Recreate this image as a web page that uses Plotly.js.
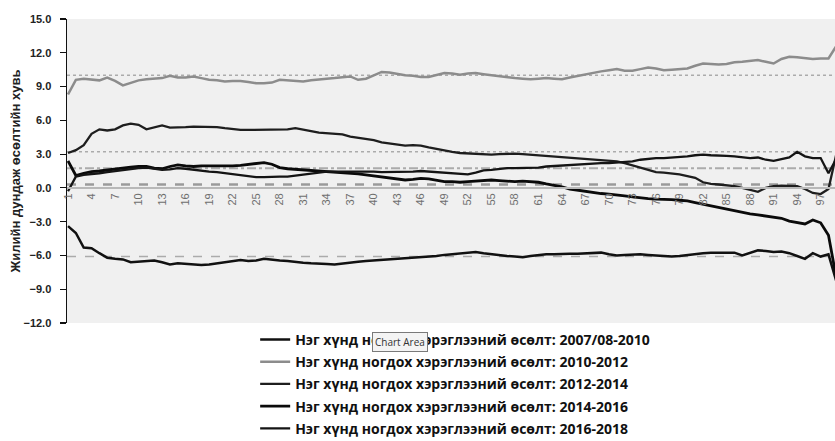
<!DOCTYPE html>
<html>
<head>
<meta charset="utf-8">
<script src="https://cdn.plot.ly/plotly-3.0.1.min.js"></script>
<style>html,body{margin:0;padding:0;background:#fff;overflow:hidden}#chart{width:835px;height:441px}</style>
</head>
<body>
<div id="chart"></div>
<script>
// Categories 1..99
var categories = [];
for (var i = 1; i <= 99; i++) categories.push(i);

var tickValues = [1,4,7,10,13,16,19,22,25,28,31,34,37,40,43,46,49,52,55,58,61,64,67,70,73,76,79,82,85,88,91,94,97];
var tickLabels = tickValues.map(String);

var seriesNames = [
  "Нэг хүнд ногдох хэрэглээний өсөлт: 2007/08-2010",
  "Нэг хүнд ногдох хэрэглээний өсөлт: 2010-2012",
  "Нэг хүнд ногдох хэрэглээний өсөлт: 2012-2014",
  "Нэг хүнд ногдох хэрэглээний өсөлт: 2014-2016",
  "Нэг хүнд ногдох хэрэглээний өсөлт: 2016-2018"
];

var growth2007_2010 = [
-3.4,-4.0,-5.3,-5.35,-5.8,-6.2,-6.3,-6.35,-6.6,-6.55,
-6.5,-6.45,-6.6,-6.8,-6.7,-6.75,-6.8,-6.85,-6.8,-6.7,
-6.55,-6.45,-6.4,-6.5,-6.45,-6.3,-6.4,-6.45,-6.5,-6.6,
-6.65,-6.7,-6.7,-6.75,-6.8,-6.7,-6.6,-6.55,-6.5,-6.45,
-6.4,-6.4,-6.35,-6.3,-6.25,-6.2,-6.15,-6.05,-5.95,-5.9,
-5.85,-5.75,-5.7,-5.8,-5.9,-5.95,-6.05,-6.1,-6.15,-6.05,
-5.95,-5.9,-5.9,-5.85,-5.85,-5.85,-5.8,-5.8,-5.75,-5.9,
-6.0,-5.95,-5.9,-5.9,-5.95,-6.0,-6.05,-6.1,-6.05,-5.95,
-5.85,-5.8,-5.75,-5.75,-5.7,-5.75,-6.0,-5.8,-5.55,-5.6,
-5.7,-5.65,-5.8,-6.05,-6.3,-5.8,-6.1,-5.9,-8.3
];

var growth2010_2012 = [
8.3,9.6,9.7,9.6,9.55,9.8,9.5,9.1,9.3,9.55,
9.65,9.7,9.75,9.95,9.8,9.8,9.9,9.75,9.6,9.55,
9.45,9.5,9.5,9.4,9.3,9.3,9.35,9.6,9.55,9.45,
9.45,9.55,9.65,9.7,9.75,9.8,9.9,9.6,9.7,10.0,
10.3,10.25,10.1,10.0,9.95,9.85,9.85,10.0,10.2,10.15,
10.05,10.15,10.2,10.1,10.0,9.9,9.85,9.75,9.7,9.65,
9.7,9.75,9.7,9.65,9.8,9.95,10.1,10.2,10.35,10.45,
10.55,10.4,10.4,10.55,10.7,10.6,10.45,10.5,10.55,10.6,
10.85,11.05,11.0,10.95,11.0,11.15,11.2,11.3,11.35,11.2,
11.05,11.45,11.65,11.6,11.5,11.45,11.5,11.5,12.6
];

var growth2012_2014 = [
3.1,3.35,3.8,4.8,5.2,5.1,5.2,5.55,5.7,5.6,
5.2,5.4,5.55,5.35,5.35,5.4,5.45,5.45,5.45,5.4,
5.3,5.2,5.15,5.15,5.15,5.15,5.15,5.15,5.2,5.3,
5.2,5.05,4.9,4.85,4.8,4.75,4.55,4.45,4.4,4.25,
4.05,3.95,3.85,3.75,3.8,3.75,3.6,3.45,3.3,3.2,
3.1,3.05,3.0,2.95,2.95,3.0,3.05,3.05,3.0,2.95,
2.9,2.85,2.8,2.7,2.65,2.6,2.55,2.55,2.5,2.45,
2.35,2.2,2.0,1.8,1.55,1.4,1.35,1.3,1.2,1.05,
0.9,0.5,0.35,0.3,0.25,0.15,0.0,-0.2,-0.35,0.0,
0.15,0.2,0.2,0.15,-0.1,-0.45,-0.55,-0.1,3.0
];

var growth2014_2016 = [
2.4,1.1,1.3,1.45,1.5,1.6,1.65,1.75,1.85,1.9,
1.9,1.75,1.7,1.9,2.05,1.95,1.9,1.95,1.95,1.9,
1.9,1.95,2.0,2.1,2.2,2.25,2.1,1.8,1.7,1.65,
1.6,1.6,1.55,1.5,1.45,1.4,1.3,1.25,1.15,1.05,
0.95,0.85,0.8,0.7,0.75,0.85,0.8,0.65,0.55,0.55,
0.5,0.55,0.6,0.65,0.7,0.65,0.6,0.55,0.6,0.55,
0.5,0.35,0.25,0.1,-0.1,-0.2,-0.35,-0.45,-0.5,-0.55,
-0.6,-0.7,-0.8,-0.9,-0.95,-1.0,-1.0,-1.05,-1.1,-1.15,
-1.3,-1.45,-1.6,-1.75,-1.9,-2.05,-2.2,-2.3,-2.4,-2.5,
-2.55,-2.7,-2.95,-3.1,-3.2,-2.85,-3.1,-4.2,-8.0
];

var growth2016_2018 = [
-0.3,1.0,1.15,1.2,1.3,1.4,1.5,1.6,1.7,1.75,
1.8,1.7,1.6,1.65,1.75,1.7,1.6,1.5,1.45,1.4,
1.3,1.25,1.15,1.05,0.95,0.95,1.0,1.0,1.0,1.1,
1.2,1.3,1.35,1.45,1.45,1.45,1.45,1.45,1.5,1.45,
1.4,1.4,1.4,1.4,1.45,1.5,1.45,1.4,1.4,1.35,
1.3,1.2,1.35,1.55,1.6,1.7,1.75,1.75,1.75,1.75,
1.8,1.9,1.95,2.0,2.05,2.1,2.15,2.15,2.2,2.2,
2.25,2.3,2.35,2.5,2.6,2.65,2.65,2.7,2.7,2.8,
2.9,2.95,2.9,2.9,2.85,2.8,2.7,2.65,2.7,2.5,
2.4,2.55,2.7,3.2,2.8,2.65,2.65,1.3,2.6
];

// Average reference lines
var meanValues = [10.0, 3.2, 1.75, 0.3, -6.1];
var meanDash = ["dot", "dot", "dashdot", "dash", "dash"];

var seriesData = [growth2007_2010, growth2010_2012, growth2012_2014, growth2014_2016, growth2016_2018];
var seriesColors = ["#111111", "#8c8c8c", "#1e1e1e", "#0a0a0a", "#141414"];
var seriesWidths = [2.5, 2.5, 2.3, 2.8, 2.3];

var traces = seriesData.map(function (vals, k) {
  return {
    x: categories,
    y: vals,
    type: "scatter",
    mode: "lines",
    name: seriesNames[k],
    legendgroup: "g" + k,
    line: {color: seriesColors[k], width: seriesWidths[k]},
    hoverinfo: "skip"
  };
});

var shapes = meanValues.map(function (v, k) {
  var w = meanDash[k] === "dash" && k === 3 ? 2.5 : (meanDash[k] === "dashdot" ? 2 : 1.5);
  return {
    type: "line", xref: "paper", yref: "y", x0: 0, x1: 1, y0: v, y1: v,
    layer: "below",
    line: {color: k === 3 ? "#9a9a9a" : "#ababab", width: w, dash: meanDash[k]}
  };
});

var layout = {
  width: 835, height: 441,
  margin: {l: 67, r: 0, t: 19, b: 118, pad: 0, autoexpand: false},
  paper_bgcolor: "#ffffff",
  plot_bgcolor: "#f0f0f0",
  showlegend: true,
  font: {family: "Liberation Sans, Arial, sans-serif", color: "#222"},
  xaxis: {
    type: "linear",
    range: [0.87, 98.83],
    anchor: "free",
    position: 12 / 27,
    tickmode: "array",
    tickvals: tickValues,
    ticktext: tickLabels,
    tickangle: -90,
    ticks: "",
    tickfont: {size: 11, color: "#6e6e6e"},
    showline: true,
    linecolor: "#b8b8b8",
    linewidth: 2,
    showgrid: false,
    zeroline: false,
    fixedrange: true
  },
  yaxis: {
    range: [-12, 15],
    tickmode: "linear",
    tick0: -12,
    dtick: 3,
    tickformat: ".1f",
    ticks: "outside",
    ticklen: 6,
    tickwidth: 1.2,
    tickcolor: "#111",
    ticklabelstandoff: 6,
    tickfont: {size: 11, color: "#222", weight: "bold"},
    showline: true,
    linecolor: "#111",
    linewidth: 1.5,
    showgrid: false,
    zeroline: false,
    title: {text: "Жилийн дундаж өсөлтийн хувь", font: {size: 13, color: "#222", weight: "bold"}, standoff: 0},
    fixedrange: true
  },
  legend: {
    x: 0.245, xanchor: "left",
    y: -0.003, yanchor: "top",
    orientation: "v",
    bgcolor: "rgba(0,0,0,0)",
    font: {family: "Open Sans, Liberation Sans, sans-serif", size: 14, color: "#111", weight: "bold"},
    tracegroupgap: 1,
    itemwidth: 30
  },
  shapes: shapes,
  annotations: [{
    text: "Chart Area",
    xref: "paper", yref: "paper",
    x: 0.433, y: -0.061,
    xanchor: "center", yanchor: "middle",
    showarrow: false,
    font: {family: "Open Sans, Liberation Sans, sans-serif", size: 10, color: "#333"},
    bgcolor: "#f4f4f4",
    bordercolor: "#7a7a7a",
    borderwidth: 1,
    borderpad: 2
  }]
};

Plotly.newPlot("chart", traces, layout, {displayModeBar: false, staticPlot: true});
</script>
</body>
</html>
